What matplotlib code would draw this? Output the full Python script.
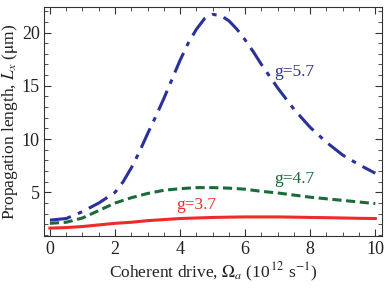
import matplotlib
matplotlib.use("Agg")
import matplotlib.pyplot as plt
from matplotlib.ticker import MultipleLocator

plt.rcParams['font.family'] = ['Liberation Serif', 'DejaVu Serif']
plt.rcParams['mathtext.fontset'] = 'stix'

# drive values and propagation lengths
omega = [0, 0.5, 1, 1.5, 2, 2.5, 3, 3.5, 4, 4.5, 5, 5.5, 6, 6.5, 7, 7.5, 8, 8.5, 9, 9.5, 10]
L_g47 = [2.1, 2.2, 2.6, 3.3, 4.0, 4.5, 4.9, 5.2, 5.35, 5.45, 5.45, 5.4, 5.3, 5.1, 4.95, 4.75, 4.55, 4.4, 4.25, 4.1, 3.95]
L_g37 = [1.65, 1.7, 1.8, 1.95, 2.1, 2.2, 2.35, 2.45, 2.55, 2.6, 2.65, 2.68, 2.7, 2.7, 2.7, 2.68, 2.65, 2.63, 2.6, 2.57, 2.55]

omega_g57 = [0, 0.5, 1, 1.5, 2, 2.25, 2.5, 2.75, 3, 3.25, 3.5, 3.75, 4, 4.25, 4.5, 4.75, 5, 5.25, 5.5,
             5.75, 6, 6.25, 6.5, 7, 7.5, 8, 8.5, 9, 9.5, 10]
L_g57 = [2.4, 2.55, 3.2, 4.0, 5.0, 6.0, 7.3, 8.8, 10.5, 12.1, 13.8, 15.6, 17.4, 19.0, 20.3, 21.3, 21.7, 21.6,
         21.1, 20.3, 19.3, 18.2, 17.0, 14.8, 12.8, 11.1, 9.7, 8.5, 7.6, 6.8]

blue, green, red = '#2b3196', '#1a6b3a', '#ee2a2a'

fig = plt.figure(figsize=(3.9, 2.89), dpi=100)
ax = fig.add_axes([0.113, 0.183, 0.866, 0.793])

ax.plot(omega_g57, L_g57, color=blue, lw=2.2, dashes=(7, 2.5, 1.5, 2.5))
ax.plot(omega, L_g47, color=green, lw=2.2, dashes=(3, 1.5))
ax.plot(omega, L_g37, color=red, lw=2.2)

ax.text(7.5, 16.3, 'g=5.7', color=blue, fontsize=12.5, ha='center', va='center')
ax.text(7.5, 6.3, 'g=4.7', color=green, fontsize=12.5, ha='center', va='center')
ax.text(4.5, 3.8, 'g=3.7', color=red, fontsize=12.5, ha='center', va='center')

ax.set_xlim(-0.18, 10.2)
ax.set_ylim(0.9, 22.4)
ax.xaxis.set_major_locator(MultipleLocator(2))
ax.xaxis.set_minor_locator(MultipleLocator(0.5))
ax.yaxis.set_major_locator(MultipleLocator(5))
ax.yaxis.set_minor_locator(MultipleLocator(1))
ax.tick_params(which='both', direction='in', top=True, right=True, labelsize=13, colors='#333333', labelcolor='#222222')
ax.tick_params(which='major', length=5)
ax.tick_params(which='minor', length=3)
ax.tick_params(axis='y', pad=3)
for s in ax.spines.values():
    s.set_color('#333333')

ax.set_xlabel(r'Coherent drive, $\Omega_a$ (10$^{\,12}$ s$^{-1}$)', fontsize=12.5, color='#222222', labelpad=2)
ax.set_ylabel(r'Propagation length, $L_x$ ($\mathrm{\mu}$m)', fontsize=12.5, color='#222222', labelpad=1)

fig.savefig('out.png', dpi=100)
